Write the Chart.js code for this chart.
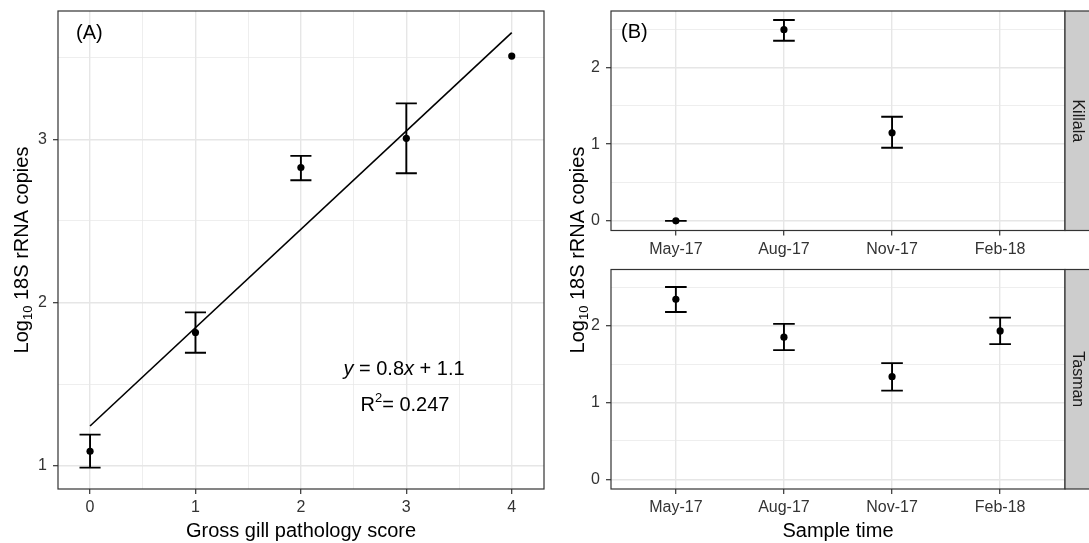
<!DOCTYPE html>
<html><head><meta charset="utf-8">
<script src="https://cdn.jsdelivr.net/npm/chart.js@4.4.1/dist/chart.umd.min.js"></script>
<style>
html,body{margin:0;padding:0;background:#fff;}
#wrap{position:relative;width:1089px;height:543px;overflow:hidden;background:#fff;}
canvas{position:absolute;left:0;top:0;}
</style></head><body>
<div id="wrap">
<canvas id="cA" width="1089" height="543"></canvas>
<canvas id="cB1" width="1089" height="543"></canvas>
<canvas id="cB2" width="1089" height="543"></canvas>
</div>
<script>
// ---------- data ----------
const gillScore = [0, 1, 2, 3, 4];
const gillMean  = [1.088, 1.816, 2.827, 3.006, 3.51];
const gillLow   = [0.988, 1.692, 2.749, 2.792, null];
const gillHigh  = [1.19, 1.939, 2.898, 3.22, null];
const fitX = [0, 4];
const fitY = [1.243, 3.653];

const sampleTimes = ['May-17', 'Aug-17', 'Nov-17', 'Feb-18'];
const killalaMean = [0, 2.491, 1.148, null];
const killalaLow  = [0, 2.348, 0.952, null];
const killalaHigh = [0, 2.617, 1.357, null];
const tasmanMean  = [2.346, 1.853, 1.338, 1.935];
const tasmanLow   = [2.182, 1.684, 1.156, 1.762];
const tasmanHigh  = [2.506, 2.026, 1.515, 2.108];

const ticksAx = [0, 1, 2, 3, 4];
const ticksAy = [1, 2, 3];
const ticksBy = [0, 1, 2];

// ---------- helpers ----------
const FONT = '"Liberation Sans", Arial, Helvetica, sans-serif';
Chart.defaults.font.family = FONT;

function withMinors(majors, min, max) {
  const s = new Set();
  majors.forEach(v => {
    s.add(v);
    if (v + 0.5 <= max) s.add(v + 0.5);
    if (v - 0.5 >= min) s.add(v - 0.5);
  });
  return [...s].sort((a, b) => a - b);
}

function makeScale(min, max, gridVals, majors, labelFn, sizeKey, size, pad) {
  const isMajor = c => c && c.tick && majors.includes(c.tick.value);
  return {
    type: 'linear', min, max,
    afterBuildTicks: s => { s.ticks = gridVals.map(v => ({ value: v })); },
    afterFit: s => {
      s[sizeKey] = size;
      s.paddingTop = 0; s.paddingBottom = 0; s.paddingLeft = 0; s.paddingRight = 0;
    },
    ticks: {
      autoSkip: false, maxRotation: 0, minRotation: 0, padding: pad,
      color: '#333333', font: { size: 16 },
      callback: v => labelFn(v)
    },
    grid: {
      color: '#E6E6E6',
      lineWidth: c => isMajor(c) ? 1.4 : 0.7,
      tickColor: c => isMajor(c) ? '#333333' : 'rgba(0,0,0,0)',
      tickLength: 5, tickWidth: 1.2, drawTicks: true, drawOnChartArea: true
    },
    border: { display: false }
  };
}

function errorData(xs, lo, hi, half) {
  const out = [];
  xs.forEach((x, i) => {
    if (lo[i] == null || hi[i] == null) return;
    out.push({ x, y: lo[i] }, { x, y: hi[i] }, { x, y: null });
    out.push({ x: x - half, y: lo[i] }, { x: x + half, y: lo[i] }, { x, y: null });
    out.push({ x: x - half, y: hi[i] }, { x: x + half, y: hi[i] }, { x, y: null });
  });
  return out;
}
function pointData(xs, ys) {
  return xs.map((x, i) => ({ x, y: ys[i] })).filter(p => p.y != null);
}

function drawRich(ctx, parts, cx, cy, align) {
  let total = 0;
  parts.forEach(p => {
    ctx.font = (p.style || '') + ' ' + p.size + 'px ' + FONT;
    p.w = ctx.measureText(p.t).width; total += p.w;
  });
  let x = align === 'left' ? cx : cx - total / 2;
  ctx.textBaseline = 'middle'; ctx.textAlign = 'left';
  parts.forEach(p => {
    ctx.font = (p.style || '') + ' ' + p.size + 'px ' + FONT;
    ctx.fillText(p.t, x, cy + (p.dy || 0));
    x += p.w;
  });
}
function drawBorder(ctx, a) {
  ctx.strokeStyle = '#333333'; ctx.lineWidth = 1.2;
  ctx.strokeRect(a.left, a.top, a.right - a.left, a.bottom - a.top);
}
function drawYTitle(ctx, cx, cy) {
  ctx.save(); ctx.translate(cx, cy); ctx.rotate(-Math.PI / 2);
  ctx.fillStyle = '#000';
  drawRich(ctx, [{ t: 'Log', size: 20 }, { t: '10', size: 13, dy: 6 }, { t: ' 18S rRNA copies', size: 20 }], 0, 0);
  ctx.restore();
}
function drawStrip(ctx, a, label) {
  const x0 = a.right, x1 = 1095;
  ctx.fillStyle = '#CDCDCD';
  ctx.fillRect(x0, a.top, x1 - x0, a.bottom - a.top);
  ctx.strokeStyle = '#333333'; ctx.lineWidth = 1.2;
  ctx.strokeRect(x0, a.top, x1 - x0, a.bottom - a.top);
  ctx.save(); ctx.translate(1077, (a.top + a.bottom) / 2); ctx.rotate(Math.PI / 2);
  ctx.fillStyle = '#1A1A1A'; ctx.font = '16px ' + FONT;
  ctx.textAlign = 'center'; ctx.textBaseline = 'middle';
  ctx.fillText(label, 0, 0);
  ctx.restore();
}

const baseOpts = {
  responsive: false, animation: false, devicePixelRatio: 1, events: [],
  plugins: { legend: { display: false }, tooltip: { enabled: false } }
};
const errStyle = { showLine: true, pointRadius: 0, borderColor: '#000', borderWidth: 1.9, spanGaps: false, fill: false };
const ptStyle = { pointRadius: 3.6, pointBackgroundColor: '#000', pointBorderWidth: 0, pointHoverRadius: 0, showLine: false };

// ---------- Panel A ----------
new Chart(document.getElementById('cA'), {
  type: 'scatter',
  data: {
    datasets: [
      Object.assign({ data: pointData(gillScore, gillMean) }, ptStyle),
      Object.assign({ data: errorData(gillScore, gillLow, gillHigh, 0.1) }, errStyle),
      Object.assign({ data: fitX.map((x, i) => ({ x, y: fitY[i] })) }, errStyle, { borderWidth: 1.6 })
    ]
  },
  options: Object.assign({}, baseOpts, {
    layout: { padding: { left: 0, top: 11, right: 545, bottom: 0 } },
    scales: {
      x: makeScale(-0.304, 4.306, withMinors(ticksAx, -0.304, 4.306), ticksAx, v => ticksAx.includes(v) ? String(v) : '', 'height', 54, 4),
      y: makeScale(0.857, 3.786, withMinors(ticksAy, 0.857, 3.786), ticksAy, v => ticksAy.includes(v) ? String(v) : '', 'width', 58, 6)
    }
  }),
  plugins: [{
    id: 'frameA',
    afterDraw(chart) {
      const ctx = chart.ctx, a = chart.chartArea;
      ctx.save();
      drawBorder(ctx, a);
      ctx.fillStyle = '#000';
      drawRich(ctx, [{ t: '(A)', size: 20 }], 76, 33, 'left');
      drawRich(ctx, [{ t: 'y', size: 20, style: 'italic' }, { t: ' = 0.8', size: 20 }, { t: 'x', size: 20, style: 'italic' }, { t: ' + 1.1', size: 20 }], 404, 369);
      drawRich(ctx, [{ t: 'R', size: 20 }, { t: '2', size: 13, dy: -7 }, { t: '= 0.247', size: 20 }], 405, 405);
      drawYTitle(ctx, 22, (a.top + a.bottom) / 2);
      drawRich(ctx, [{ t: 'Gross gill pathology score', size: 20 }], (a.left + a.right) / 2, 531);
      ctx.restore();
    }
  }]
});

// ---------- Panel B ----------
const timeIdx = sampleTimes.map((_, i) => i + 1);
const timeLabel = v => (Number.isInteger(v) && sampleTimes[v - 1]) ? sampleTimes[v - 1] : '';

function panelB(id, mean, lo, hi, pad, xh, drawExtra) {
  return new Chart(document.getElementById(id), {
    type: 'scatter',
    data: {
      datasets: [
        Object.assign({ data: pointData(timeIdx, mean) }, ptStyle),
        Object.assign({ data: errorData(timeIdx, lo, hi, 0.1) }, errStyle)
      ]
    },
    options: Object.assign({}, baseOpts, {
      layout: { padding: pad },
      scales: {
        x: makeScale(0.4, 4.6, timeIdx, timeIdx, timeLabel, 'height', xh, 4),
        y: makeScale(-0.126, 2.735, withMinors(ticksBy, -0.126, 2.735), ticksBy, v => ticksBy.includes(v) ? String(v) : '', 'width', 66, 6)
      }
    }),
    plugins: [{
      id: 'frame' + id,
      afterDraw(chart) {
        const ctx = chart.ctx, a = chart.chartArea;
        ctx.save();
        drawBorder(ctx, a);
        drawExtra(ctx, a);
        ctx.restore();
      }
    }]
  });
}

panelB('cB1', killalaMean, killalaLow, killalaHigh,
  { left: 545, top: 11, right: 24, bottom: 282.5 }, 30,
  (ctx, a) => {
    drawStrip(ctx, a, 'Killala');
    ctx.fillStyle = '#000';
    drawRich(ctx, [{ t: '(B)', size: 20 }], 621, 32, 'left');
    drawYTitle(ctx, 578, 250);
  });

panelB('cB2', tasmanMean, tasmanLow, tasmanHigh,
  { left: 545, top: 269.5, right: 24, bottom: 0 }, 54,
  (ctx, a) => {
    drawStrip(ctx, a, 'Tasman');
    ctx.fillStyle = '#000';
    drawRich(ctx, [{ t: 'Sample time', size: 20 }], (a.left + a.right) / 2, 531);
  });
</script>
</body></html>
